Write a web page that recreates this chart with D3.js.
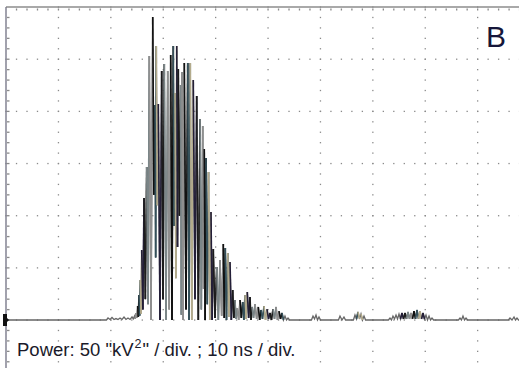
<!DOCTYPE html>
<html>
<head>
<meta charset="utf-8">
<script src="https://cdn.jsdelivr.net/npm/d3@7"></script>
<style>
  html, body { margin: 0; padding: 0; background: #fff; }
  svg { display: block; }
</style>
</head>
<body>
<div id="chart"></div>
<script>
// scope trace: time in ns, power in "kV^2"
const peakTimes = [
  19.47, 20.23, 20.99, 21.76, 22.52, 23.28, 24.05, 24.52, 24.81, 25.13,
  25.38, 25.63, 25.90, 26.34, 26.85, 27.35, 28.00, 28.44, 28.68, 29.07,
  29.71, 30.21, 30.86, 31.43, 31.93, 32.25, 32.58, 32.88, 33.34, 33.57,
  34.03, 34.68, 35.17, 35.74, 36.39, 37.02, 37.54, 37.84, 38.17, 38.65,
  39.12, 39.56, 40.21, 40.84, 41.47, 41.85, 42.31, 42.75, 43.26, 43.70,
  44.14, 44.66, 45.17, 45.61, 46.05, 46.56, 46.95, 47.52, 48.15, 48.66,
  49.24, 49.81, 50.38, 50.95, 51.53, 52.10, 52.67, 53.24, 53.82,
  58.59, 59.16, 59.73, 63.74, 64.50, 66.60, 67.18, 67.75, 68.32,
  73.28, 73.85, 74.43, 75.00, 75.57, 76.15, 76.72, 77.29, 77.86, 78.44,
  79.01, 79.58, 80.15, 80.73, 81.30, 86.64, 87.21, 87.79, 96.18, 96.95, 97.52
];
const peakPower = [
  1.9, 2.4, 1.4, 1.9, 2.9, 1.9, 2.9, 3.8, 6.7, 13.4,
  24.0, 38.3, 67.1, 116.9, 146.6, 253.0, 290.4, 206.1, 262.6, 207.0,
  238.6, 245.4, 238.6, 254.0, 262.6, 217.6, 262.6, 240.6, 225.2, 237.7,
  246.3, 246.3, 246.3, 230.0, 214.7, 192.6, 185.9, 163.9, 155.3, 141.8,
  103.5, 68.0, 50.8, 57.5, 72.8, 69.0, 64.2, 55.6, 28.8, 19.2,
  11.5, 19.2, 17.3, 24.0, 26.8, 22.0, 12.5, 15.3, 12.5, 9.6,
  13.4, 10.5, 6.7, 10.5, 12.5, 8.6, 6.7, 3.8, 1.9,
  3.8, 4.8, 2.9, 3.8, 2.9, 4.8, 7.7, 5.8, 3.8,
  1.9, 3.8, 4.8, 5.8, 6.7, 6.7, 7.7, 6.7, 8.6, 9.6,
  8.6, 6.7, 4.8, 3.8, 1.9, 1.9, 3.8, 1.9, 1.9, 2.9, 1.9
];
// level the trace falls back to just before each peak
const troughPower = [
  0, 0.5, 0.5, 0.5, 0.5, 0.5, 0.5, 1, 1, 2,
  3, 4, 6, 10, 20, 15, 0, 120, 60, 110,
  0, 20, 0, 10, 0, 90, 40, 70, 100, 5,
  0, 10, 0, 0, 20, 0, 10, 30, 0, 15,
  0, 0, 2, 0, 4, 2, 0, 3, 0, 2,
  1, 0, 2, 0, 1, 2, 0, 2, 1, 0,
  1, 0, 1, 0, 1, 0, 1, 0, 0,
  0, 1, 0, 0, 0, 0, 1, 1, 0,
  0, 0, 1, 1, 1, 1, 1, 1, 1, 1,
  1, 1, 1, 0, 0, 0, 0, 0, 0, 0, 0
];
const timeTicks = [0, 10, 20, 30, 40, 50, 60, 70, 80, 90, 100];
const powerTicks = [-50, 0, 50, 100, 150, 200, 250, 300];

const W = 519, H = 368;
const x = d3.scaleLinear().domain([0, 100]).range([6, 530]);
const y = d3.scaleLinear().domain([0, 300]).range([320, 7]);

const svg = d3.select('#chart').append('svg')
  .attr('width', W).attr('height', H);

// dotted graticule
const grid = svg.append('g').attr('fill', '#8a8a8a');
timeTicks.slice(1, -1).forEach(t => {
  grid.selectAll(null)
    .data(d3.range(-60, 301, 10))
    .enter().append('rect')
    .attr('x', x(t) - 0.6).attr('y', d => y(d) - 0.6)
    .attr('width', 1.3).attr('height', 1.3);
});
powerTicks.slice(0, -1).forEach(p => {
  grid.selectAll(null)
    .data(d3.range(0, 100, 2))
    .enter().append('rect')
    .attr('x', d => x(d) - 0.6).attr('y', y(p) - 0.6)
    .attr('width', 1.3).attr('height', 1.3);
});
// ticks under the top edge and beside the left edge
grid.selectAll(null)
  .data(d3.range(2, 100, 2))
  .enter().append('rect')
  .attr('x', d => x(d) - 0.6).attr('y', y(300) + 1.5)
  .attr('width', 1.3).attr('height', 2);
grid.selectAll(null)
  .data(d3.range(-60, 300, 10))
  .enter().append('rect')
  .attr('x', x(0) + 1).attr('y', d => y(d) - 0.6)
  .attr('width', 2.5).attr('height', 1.3);

svg.append('line')
  .attr('x1', x(0)).attr('x2', W).attr('y1', y(300)).attr('y2', y(300))
  .attr('stroke', '#8c8c8c').attr('stroke-width', 1.6);
svg.append('line')
  .attr('x1', x(0)).attr('x2', x(0)).attr('y1', y(300)).attr('y2', H)
  .attr('stroke', '#7a7a8a').attr('stroke-width', 1.4);

// trace points: baseline, troughs and peaks
const pts = [[0, 0]];
peakTimes.forEach((t, i) => {
  const prev = i ? peakTimes[i - 1] : -10;
  if (t - prev > 0.9) {
    if (i) pts.push([prev + 0.3, 0]);
    pts.push([t - 0.3, troughPower[i]]);
  } else {
    pts.push([(prev + t) / 2, troughPower[i]]);
  }
  pts.push([t, peakPower[i]]);
});
pts.push([peakTimes[peakTimes.length - 1] + 0.3, 0]);
pts.push([100, 0]);

const line = d3.line().x(d => x(d[0])).y(d => y(d[1]));
svg.append('path')
  .attr('d', line(pts))
  .attr('fill', 'none')
  .attr('stroke', '#666')
  .attr('stroke-width', 1.3);

const colors = ['#8f8f8f', '#111', '#34505a', '#b3ab8c', '#241f38', '#1c1c1c', '#7b8688'];
const segs = d3.pairs(pts).filter(s => Math.abs(s[1][1] - s[0][1]) > 5);
svg.append('g').selectAll('path')
  .data(segs)
  .enter().append('path')
  .attr('d', d => line(d))
  .attr('fill', 'none')
  .attr('stroke', (d, i) => colors[Math.floor(i / 2) % colors.length])
  .attr('stroke-width', 1.6);

// ground marker of the channel
svg.append('path')
  .attr('d', `M3,${y(0) - 6} h4 v4 l2,2 l-2,2 v4 h-4 z`)
  .attr('fill', '#111');

svg.append('text')
  .attr('x', 486).attr('y', 47)
  .attr('font-family', 'Liberation Sans, Arial, sans-serif')
  .attr('font-size', 30)
  .attr('fill', '#16163a')
  .text('B');

const label = svg.append('text')
  .attr('x', 17).attr('y', 356)
  .attr('font-family', 'Liberation Sans, Arial, sans-serif')
  .attr('font-size', 18.5)
  .attr('fill', '#1a1a2a');
label.append('tspan').text('Power: 50 "kV');
label.append('tspan').attr('dy', -8).attr('dx', 1).attr('font-size', 12.5).text('2');
label.append('tspan').attr('dy', 8).attr('dx', 1).text('" / div. ; 10 ns / div.');
</script>
</body>
</html>
